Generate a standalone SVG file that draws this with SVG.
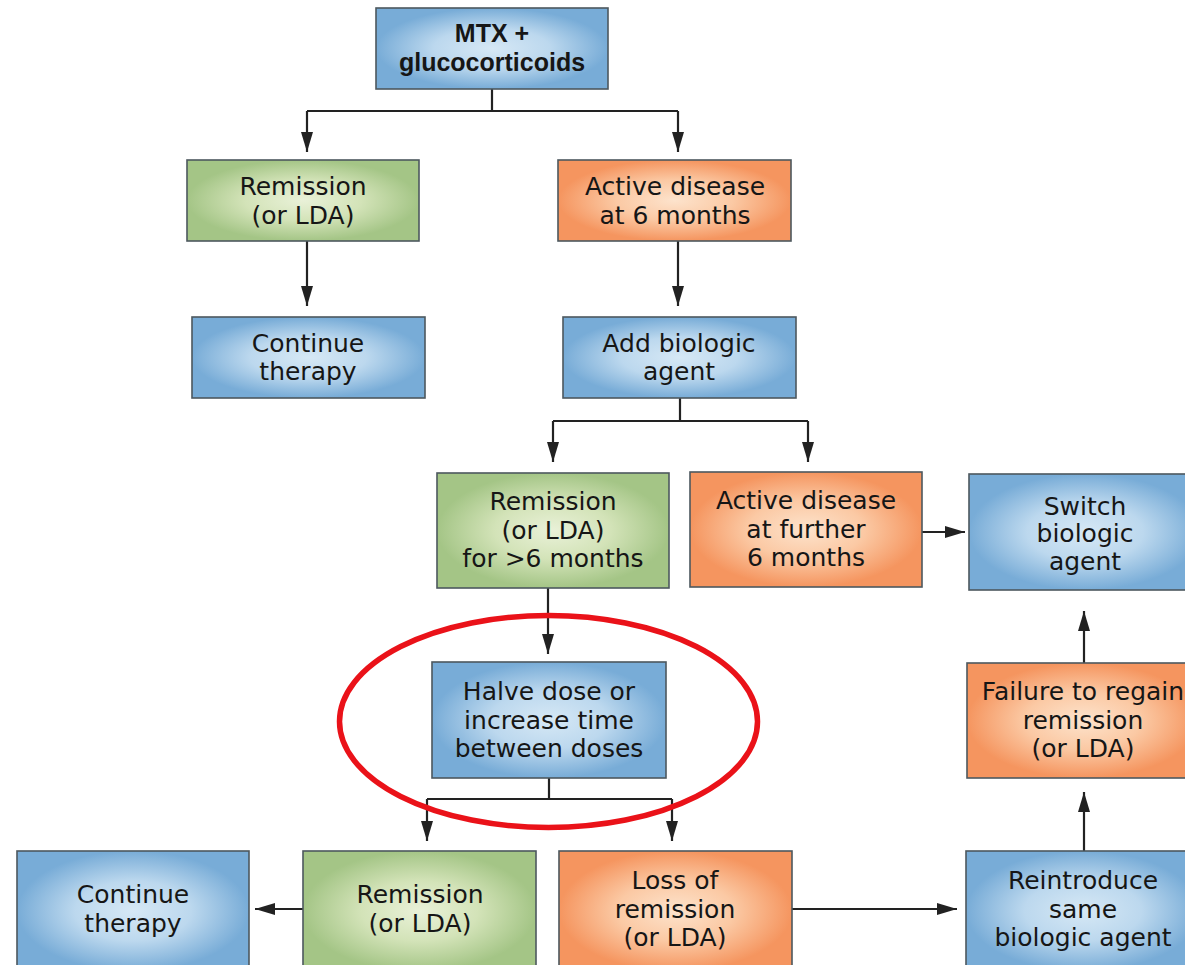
<svg xmlns="http://www.w3.org/2000/svg" width="1185" height="965" viewBox="0 0 1185 965">
  <style>
    .box { stroke: #4d585e; stroke-width: 1.6; }
    .blue { fill: url(#gBlue); }
    .green { fill: url(#gGreen); }
    .orange { fill: url(#gOrange); }
    .t { font-family: "DejaVu Sans", "Liberation Sans", sans-serif; font-size: 25px; fill: #161616; text-anchor: middle; }
    .tb { font-family: "Liberation Sans", Arial, sans-serif; font-size: 25px; font-weight: bold; fill: #161616; text-anchor: middle; }
    .conn path { fill: none; stroke: #222222; stroke-width: 2.2; }
    .arr { marker-end: url(#ah); }
  </style>
  <defs>
    <radialGradient id="gBlue" cx="0.5" cy="0.5" r="0.5">
      <stop offset="0" stop-color="#d6e8f5"/>
      <stop offset="0.5" stop-color="#bcd8ee"/>
      <stop offset="1" stop-color="#78acd7"/>
    </radialGradient>
    <radialGradient id="gGreen" cx="0.5" cy="0.5" r="0.5">
      <stop offset="0" stop-color="#e9f1d8"/>
      <stop offset="0.5" stop-color="#d3e3b8"/>
      <stop offset="1" stop-color="#a4c586"/>
    </radialGradient>
    <radialGradient id="gOrange" cx="0.5" cy="0.5" r="0.5">
      <stop offset="0" stop-color="#fde3cc"/>
      <stop offset="0.5" stop-color="#fbc9a4"/>
      <stop offset="1" stop-color="#f5955f"/>
    </radialGradient>
    <marker id="ah" markerUnits="userSpaceOnUse" markerWidth="20" markerHeight="12" refX="20" refY="6" orient="auto">
      <path d="M0,0 L20,6 L0,12 z" fill="#222222"/>
    </marker>
  </defs>

  <rect width="1185" height="965" fill="#ffffff"/>

  <g id="connectors" class="conn">
    <path d="M492,89 V111 M307,111 H678"/>
    <path class="arr" d="M307,111 V152"/>
    <path class="arr" d="M678,111 V152"/>
    <path class="arr" d="M307,241 V306"/>
    <path class="arr" d="M678,241 V306"/>
    <path d="M680,398 V421 M553,421 H808"/>
    <path class="arr" d="M553,421 V462"/>
    <path class="arr" d="M808,421 V462"/>
    <path class="arr" d="M922,532 H965"/>
    <path class="arr" d="M548,588 V654"/>
    <path d="M549,778 V799 M427,799 H672"/>
    <path class="arr" d="M427,799 V841"/>
    <path class="arr" d="M672,799 V841"/>
    <path class="arr" d="M303,909 H255"/>
    <path class="arr" d="M792,909 H957"/>
    <path class="arr" d="M1084,851 V792"/>
    <path class="arr" d="M1084,663 V611"/>
  </g>

  <g id="n-mtx">
    <rect class="box blue" x="376" y="8" width="232" height="81"/>
    <text class="tb" x="492" y="42">MTX +</text>
    <text class="tb" x="492" y="71">glucocorticoids</text>
  </g>
  <g id="n-remission1">
    <rect class="box green" x="187" y="160" width="232" height="81"/>
    <text class="t" x="303" y="195">Remission</text>
    <text class="t" x="303" y="223.5">(or LDA)</text>
  </g>
  <g id="n-active6">
    <rect class="box orange" x="558" y="160" width="233" height="81"/>
    <text class="t" x="675" y="195">Active disease</text>
    <text class="t" x="675" y="223.5">at 6 months</text>
  </g>
  <g id="n-continue1">
    <rect class="box blue" x="192" y="317" width="233" height="81"/>
    <text class="t" x="308" y="351.5">Continue</text>
    <text class="t" x="308" y="380">therapy</text>
  </g>
  <g id="n-addbio">
    <rect class="box blue" x="563" y="317" width="233" height="81"/>
    <text class="t" x="679" y="351.5">Add biologic</text>
    <text class="t" x="679" y="380">agent</text>
  </g>
  <g id="n-remission6">
    <rect class="box green" x="437" y="473" width="232" height="115"/>
    <text class="t" x="553" y="510">Remission</text>
    <text class="t" x="553" y="538.5">(or LDA)</text>
    <text class="t" x="553" y="567">for &gt;6 months</text>
  </g>
  <g id="n-activefurther">
    <rect class="box orange" x="690" y="472" width="232" height="115"/>
    <text class="t" x="806" y="509">Active disease</text>
    <text class="t" x="806" y="537.5">at further</text>
    <text class="t" x="806" y="566">6 months</text>
  </g>
  <g id="n-switch">
    <rect class="box blue" x="969" y="474" width="232" height="116"/>
    <text class="t" x="1085" y="514.5">Switch</text>
    <text class="t" x="1085" y="542">biologic</text>
    <text class="t" x="1085" y="570">agent</text>
  </g>
  <g id="n-halve">
    <rect class="box blue" x="432" y="662" width="234" height="116"/>
    <text class="t" x="549" y="700">Halve dose or</text>
    <text class="t" x="549" y="728.5">increase time</text>
    <text class="t" x="549" y="757">between doses</text>
  </g>
  <g id="n-failure">
    <rect class="box orange" x="967" y="663" width="232" height="115"/>
    <text class="t" x="1083" y="700">Failure to regain</text>
    <text class="t" x="1083" y="728.5">remission</text>
    <text class="t" x="1083" y="757">(or LDA)</text>
  </g>
  <g id="n-continue2">
    <rect class="box blue" x="17" y="851" width="232" height="120"/>
    <text class="t" x="133" y="903">Continue</text>
    <text class="t" x="133" y="931.5">therapy</text>
  </g>
  <g id="n-remission2">
    <rect class="box green" x="303" y="851" width="233" height="120"/>
    <text class="t" x="420" y="903">Remission</text>
    <text class="t" x="420" y="931.5">(or LDA)</text>
  </g>
  <g id="n-loss">
    <rect class="box orange" x="559" y="851" width="233" height="120"/>
    <text class="t" x="675" y="889">Loss of</text>
    <text class="t" x="675" y="917.5">remission</text>
    <text class="t" x="675" y="946">(or LDA)</text>
  </g>
  <g id="n-reintroduce">
    <rect class="box blue" x="966" y="851" width="234" height="120"/>
    <text class="t" x="1083" y="889">Reintroduce</text>
    <text class="t" x="1083" y="917.5">same</text>
    <text class="t" x="1083" y="946">biologic agent</text>
  </g>

  <ellipse id="highlight" cx="548.5" cy="721.5" rx="209" ry="106" fill="none" stroke="#ea1219" stroke-width="5.5"/>
</svg>
